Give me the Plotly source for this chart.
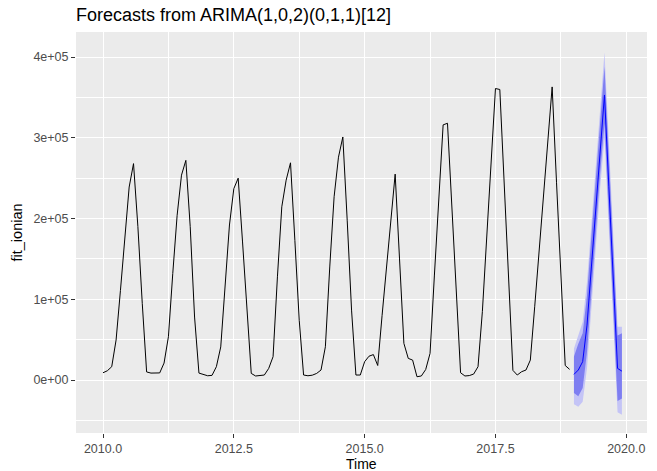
import plotly.graph_objects as go

# ---- data ----
start_year = 2010
hist_values = [
    9000, 11500, 16500, 49500, 111000, 177000, 239000, 268000, 190000, 95000, 10000, 8600,      # 2010
    8600, 8800, 21000, 53600, 132000, 204000, 253700, 272000, 190000, 78000, 8600, 7000,        # 2011
    5300, 5800, 16500, 41000, 119700, 192000, 237000, 250000, 171000, 90700, 8200, 5000,        # 2012
    5300, 6200, 14400, 28900, 127800, 214500, 247500, 269000, 173000, 74000, 6200, 5300,        # 2013
    6000, 8200, 12400, 41200, 140000, 227000, 276000, 301000, 198000, 86600, 6200, 6200,        # 2014
    22700, 29500, 31500, 18000, 80000, 140000, 200000, 255000, 150000, 45400, 26800, 24700,     # 2015
    4100, 5000, 13000, 33000, 130000, 225000, 316000, 318000, 214000, 117000, 9000, 5000,       # 2016
    5500, 7400, 16500, 85000, 178000, 270000, 361000, 359800, 244000, 128000, 12000, 6200,      # 2017
    10300, 12400, 24700, 90700, 157500, 224400, 291200, 363000, 245000, 125000, 18000, 13200,   # 2018
]
fc_start = 2019
fc_mean = [7000, 12400, 22700, 68000, 140000, 213000, 290000, 353000, 240000, 127000, 14400, 11000]
hi95 = [39000, 57000, 72000, 122000, 195000, 268000, 345000, 406000, 295000, 182000, 66000, 66000]
hi80 = [29000, 45000, 58000, 105000, 178000, 250000, 327000, 388000, 277000, 163000, 55000, 58000]
lo80 = [-16000, -20000, -10000, 35000, 105000, 178000, 255000, 318000, 203000, 90000, -26000, -23000]
lo95 = [-30000, -33000, -27000, 15000, 85000, 160000, 237000, 300000, 185000, 72000, -40000, -43000]

x_ticks = [2010, 2012.5, 2015, 2017.5, 2020]
x_tick_labels = ["2010.0", "2012.5", "2015.0", "2017.5", "2020.0"]
y_ticks = [0, 100000, 200000, 300000, 400000]
y_tick_labels = ["0e+00", "1e+05", "2e+05", "3e+05", "4e+05"]

title_text = "Forecasts from ARIMA(1,0,2)(0,1,1)[12]"
x_title = "Time"
y_title = "fit_ionian"

# ---- build ----
hist_x = [start_year + i / 12 for i in range(len(hist_values))]
fc_x = [fc_start + i / 12 for i in range(len(fc_mean))]

FONT = "Liberation Sans, Arial, sans-serif"
fig = go.Figure()

fig.add_trace(go.Scatter(
    x=fc_x + fc_x[::-1], y=hi95 + lo95[::-1], fill="toself",
    fillcolor="rgb(196,196,246)", line=dict(width=0), mode="lines",
    hoverinfo="skip", showlegend=False))
fig.add_trace(go.Scatter(
    x=fc_x + fc_x[::-1], y=hi80 + lo80[::-1], fill="toself",
    fillcolor="rgb(126,126,241)", line=dict(width=0), mode="lines",
    hoverinfo="skip", showlegend=False))
fig.add_trace(go.Scatter(
    x=fc_x, y=fc_mean, mode="lines", line=dict(color="#0000FF", width=1),
    showlegend=False))
fig.add_trace(go.Scatter(
    x=hist_x, y=hist_values, mode="lines", line=dict(color="black", width=1),
    showlegend=False))

axis_common = dict(
    showgrid=True, gridcolor="white", gridwidth=1.1, zeroline=False, showline=False,
    ticks="outside", ticklen=4, tickwidth=1, tickcolor="#333333",
    tickfont=dict(family=FONT, size=12.5, color="#4D4D4D"),
)

fig.update_layout(
    width=657, height=471,
    margin=dict(l=76, r=10, t=32, b=38),
    paper_bgcolor="white", plot_bgcolor="#EBEBEB",
    title=dict(text=title_text, x=76 / 657, xref="container", xanchor="left",
               y=1 - 15 / 471, yref="container", yanchor="middle",
               font=dict(family=FONT, size=18, color="black")),
    xaxis=dict(range=[2009.484, 2020.396], tickmode="array", tickvals=x_ticks,
               ticktext=x_tick_labels,
               minor=dict(tickvals=[2011.25, 2013.75, 2016.25, 2018.75], showgrid=True,
                          gridcolor="white", gridwidth=0.5, ticks=""),
               **axis_common),
    yaxis=dict(range=[-65600, 431000], tickmode="array", tickvals=y_ticks,
               ticktext=y_tick_labels,
               minor=dict(tickvals=[-50000, 50000, 150000, 250000, 350000], showgrid=True,
                          gridcolor="white", gridwidth=0.5, ticks=""),
               **axis_common),
    annotations=[
        dict(text=x_title, xref="paper", yref="paper", x=0.5, y=(433 - 464) / 401,
             xanchor="center", yanchor="middle", showarrow=False, borderpad=0,
             font=dict(family=FONT, size=14, color="black")),
        dict(text=y_title, xref="paper", yref="paper", x=(16 - 76) / 571, y=0.5,
             xanchor="center", yanchor="middle", textangle=-90, showarrow=False,
             borderpad=0, font=dict(family=FONT, size=14.5, color="black")),
    ],
)

fig.write_html(
    "out.html",
    config={"displayModeBar": False},
    post_script="document.body.style.margin='0';document.body.style.overflow='hidden';",
)
